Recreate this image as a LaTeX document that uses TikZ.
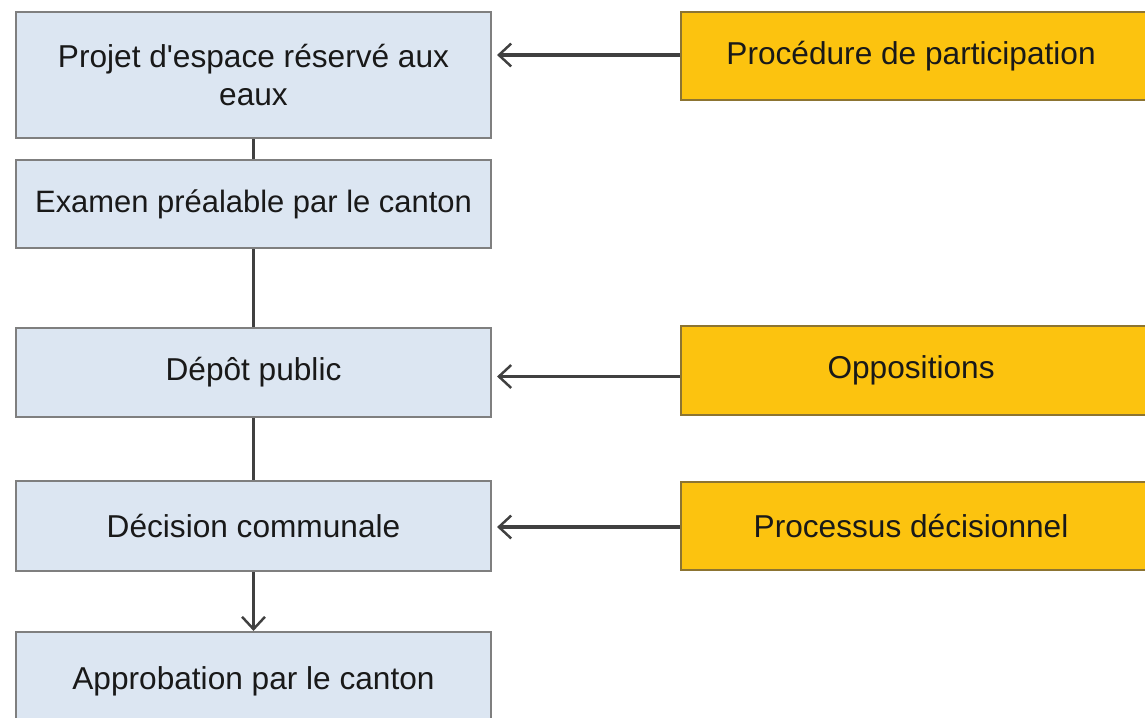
\documentclass[tikz,border=0pt]{standalone}
\usepackage{fontspec}
\setmainfont{Liberation Sans}
\usetikzlibrary{arrows.meta}
\definecolor{boxblue}{HTML}{DCE6F2}
\definecolor{boxgray}{HTML}{7F7F7F}
\definecolor{boxorange}{HTML}{FCC30F}
\definecolor{orangeedge}{HTML}{8C7432}
\definecolor{linegray}{HTML}{404040}
\tikzset{
  bluebox/.style={draw=boxgray, line width=1.2pt, fill=boxblue, minimum width=9.5cm, inner sep=0pt, align=center, text=black!90, font=\fontsize{18}{22}\selectfont},
  orangebox/.style={draw=orangeedge, line width=1.2pt, fill=boxorange, minimum width=9.6cm, minimum height=1.76cm, inner sep=0pt, align=center, text=black!90, font=\fontsize{18}{22}\selectfont},
  link/.style={draw=linegray, line width=1.8pt},
  arr/.style={link, -{Straight Barb[length=7pt,width=13pt,line width=1.4pt]}},
}
\begin{document}
\begin{tikzpicture}
\useasboundingbox (0,0) rectangle (22.9,-14.34);
\clip (0,0) rectangle (22.9,-14.34);
% left column
\node[bluebox, minimum height=2.52cm] (b1) at (5.07,-1.50) {Projet d\textquotesingle espace réservé aux\\[-0.5pt]eaux};
\node[bluebox, minimum height=1.76cm, font=\fontsize{17.6}{22}\selectfont] (b2) at (5.07,-4.08) {Examen préalable par le canton};
\node[bluebox, minimum height=1.78cm] (b3) at (5.07,-7.45) {Dépôt public};
\node[bluebox, minimum height=1.80cm] (b4) at (5.07,-10.52) {Décision communale};
\node[bluebox, minimum height=1.96cm] (b5) at (5.07,-13.62) {Approbation par le canton};
% right column
\node[orangebox, anchor=west] (oA) at (13.60,-1.12) {\hspace*{-0.4cm}Procédure de participation};
\node[orangebox, anchor=west, minimum height=1.78cm] (oB) at (13.60,-7.41) {\hspace*{-0.4cm}Oppositions};
\node[orangebox, anchor=west] (oC) at (13.60,-10.52) {\hspace*{-0.4cm}Processus décisionnel};
% connectors
\draw[link] (b1.south) -- (b2.north);
\draw[link] (b2.south) -- (b3.north);
\draw[link] (b3.south) -- (b4.north);
\draw[arr] (b4.south) -- (b5.north);
\draw[arr, shorten >=0.1cm] ([yshift=0.02cm]oA.west) -- ([yshift=0.02cm]oA.west -| b1.east);
\draw[arr, shorten >=0.1cm] ([yshift=-0.12cm]oB.west) -- ([yshift=-0.12cm]oB.west -| b3.east);
\draw[arr, shorten >=0.1cm] ([yshift=-0.02cm]oC.west) -- ([yshift=-0.02cm]oC.west -| b4.east);
\end{tikzpicture}
\end{document}
